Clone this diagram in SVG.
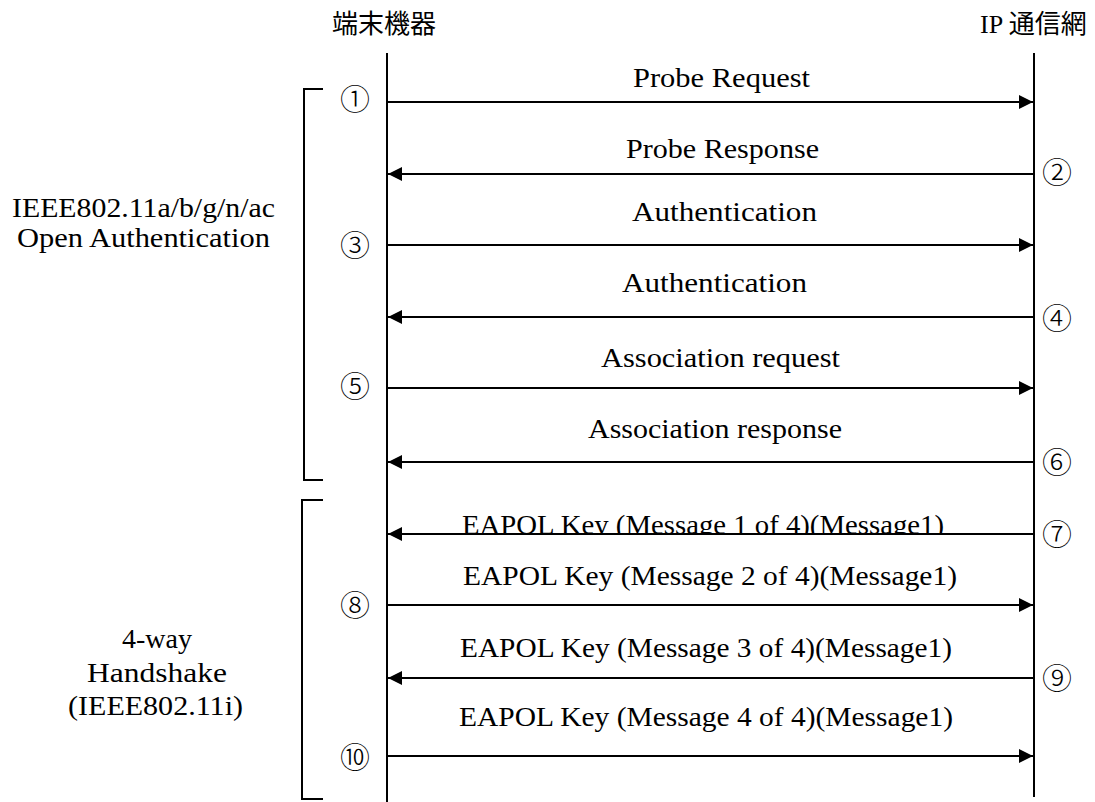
<svg xmlns="http://www.w3.org/2000/svg" width="1095" height="802" viewBox="0 0 1095 802">
<style>
  text { font-family: "Liberation Serif", "Noto Sans CJK JP", serif; fill: #000; }
  .lbl { font-size: 28px; }
  .hdr { font-size: 26px; }
  .num { font-family: "Noto Sans CJK JP", "DejaVu Sans", sans-serif; font-size: 30px; font-weight: 300; text-anchor: middle; }
  .life { stroke: #000; stroke-width: 2; fill: none; }
  .msg { stroke: #000; stroke-width: 2; fill: none; }
  .fwd { marker-end: url(#ah); }
  .br { stroke: #000; stroke-width: 2; fill: none; }
</style>
<defs>
  <marker id="ah" markerUnits="userSpaceOnUse" markerWidth="14" markerHeight="14" refX="14" refY="7" orient="auto">
    <path d="M0,0 L14,7 L0,14 Z" fill="#000"/>
  </marker>
  <clipPath id="clip7"><rect x="380" y="490" width="660" height="43"/></clipPath>
</defs>
<rect width="1095" height="802" fill="#fff"/>

<g id="lifeline-terminal">
  <text class="hdr" x="332" y="33">端末機器</text>
  <line class="life" x1="387" y1="53" x2="387" y2="802"/>
</g>
<g id="lifeline-network">
  <text class="hdr" x="980" y="33" font-size="27">IP 通信網</text>
  <line class="life" x1="1034" y1="53" x2="1034" y2="797"/>
</g>

<g id="phase-open-auth">
  <path class="br" d="M323,89 H304 V480 H323"/>
  <text class="lbl" x="12" y="217" textLength="263" lengthAdjust="spacingAndGlyphs">IEEE802.11a/b/g/n/ac</text>
  <text class="lbl" x="17" y="247" textLength="253" lengthAdjust="spacingAndGlyphs">Open Authentication</text>
</g>
<g id="phase-4way">
  <path class="br" d="M323,500 H302 V799 H323"/>
  <text class="lbl" x="122" y="648" textLength="70" lengthAdjust="spacingAndGlyphs">4-way</text>
  <text class="lbl" x="87" y="682" textLength="140" lengthAdjust="spacingAndGlyphs">Handshake</text>
  <text class="lbl" x="68" y="715" textLength="175" lengthAdjust="spacingAndGlyphs">(IEEE802.11i)</text>
</g>

<g id="connectors">
  <line class="msg fwd" x1="388" y1="102" x2="1033" y2="102"/>
  <line class="msg fwd" x1="1033" y1="174" x2="388" y2="174"/>
  <line class="msg fwd" x1="388" y1="245" x2="1033" y2="245"/>
  <line class="msg fwd" x1="1033" y1="317" x2="388" y2="317"/>
  <line class="msg fwd" x1="388" y1="388" x2="1033" y2="388"/>
  <line class="msg fwd" x1="1033" y1="462" x2="388" y2="462"/>
  <line class="msg fwd" x1="1033" y1="534" x2="388" y2="534"/>
  <line class="msg fwd" x1="388" y1="605" x2="1033" y2="605"/>
  <line class="msg fwd" x1="1033" y1="678" x2="388" y2="678"/>
  <line class="msg fwd" x1="388" y1="756" x2="1033" y2="756"/>
</g>

<g id="msg1">
  <text class="lbl" x="633" y="87" textLength="177" lengthAdjust="spacingAndGlyphs">Probe Request</text>
  <text class="num" x="355" y="110">①</text>
</g>
<g id="msg2">
  <text class="lbl" x="626" y="158" textLength="193" lengthAdjust="spacingAndGlyphs">Probe Response</text>
  <text class="num" x="1057" y="183">②</text>
</g>
<g id="msg3">
  <text class="lbl" x="632" y="221" textLength="185" lengthAdjust="spacingAndGlyphs">Authentication</text>
  <text class="num" x="355" y="256">③</text>
</g>
<g id="msg4">
  <text class="lbl" x="622" y="292" textLength="185" lengthAdjust="spacingAndGlyphs">Authentication</text>
  <text class="num" x="1057" y="329">④</text>
</g>
<g id="msg5">
  <text class="lbl" x="601" y="367" textLength="239" lengthAdjust="spacingAndGlyphs">Association request</text>
  <text class="num" x="355" y="397">⑤</text>
</g>
<g id="msg6">
  <text class="lbl" x="588" y="438" textLength="254" lengthAdjust="spacingAndGlyphs">Association response</text>
  <text class="num" x="1057" y="473">⑥</text>
</g>
<g id="msg7">
  <text class="lbl" x="462" y="534" textLength="482" lengthAdjust="spacingAndGlyphs" clip-path="url(#clip7)">EAPOL Key (Message 1 of 4)(Message1)</text>
  <text class="num" x="1057" y="545">⑦</text>
</g>
<g id="msg8">
  <text class="lbl" x="463" y="585" textLength="494" lengthAdjust="spacingAndGlyphs">EAPOL Key (Message 2 of 4)(Message1)</text>
  <text class="num" x="355" y="616">⑧</text>
</g>
<g id="msg9">
  <text class="lbl" x="460" y="657" textLength="492" lengthAdjust="spacingAndGlyphs">EAPOL Key (Message 3 of 4)(Message1)</text>
  <text class="num" x="1057" y="689">⑨</text>
</g>
<g id="msg10">
  <text class="lbl" x="459" y="726" textLength="494" lengthAdjust="spacingAndGlyphs">EAPOL Key (Message 4 of 4)(Message1)</text>
  <text class="num" x="355" y="768">⑩</text>
</g>
</svg>
